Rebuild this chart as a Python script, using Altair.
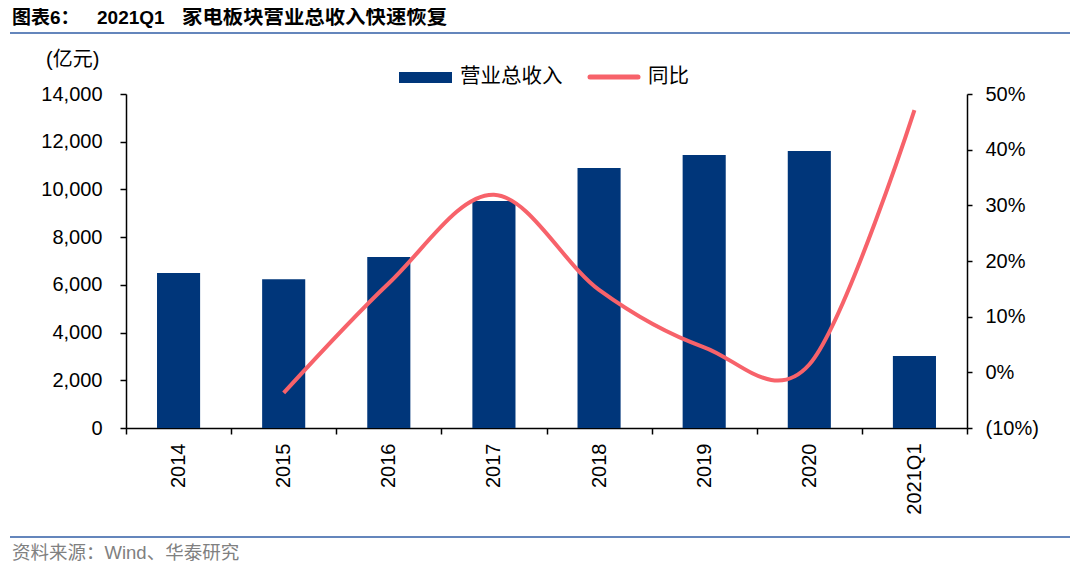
import altair as alt
import pandas as pd

# ---- data ----
categories = ["2014", "2015", "2016", "2017", "2018", "2019", "2020", "2021Q1"]
revenue = [6500, 6240, 7170, 9510, 10900, 11440, 11610, 3020]          # 营业总收入 (亿元)
yoy = [None, -3.7, 16.0, 31.9, 14.8, 4.5, 1.4, 47.1]                   # 同比 (%)
left_ticks = [0, 2000, 4000, 6000, 8000, 10000, 12000, 14000]
right_ticks = [-10, 0, 10, 20, 30, 40, 50]

title_prefix = "图表6："
title_year = "2021Q1"
title_main = "家电板块营业总收入快速恢复"
source_text = "资料来源：Wind、华泰研究"
unit_text = "(亿元)"
legend_bar = "营业总收入"
legend_line = "同比"

BAR_COLOR = "#00367A"
LINE_COLOR = "#F7626A"
RULE_COLOR = "#6486BC"
FONT = "Liberation Sans, Noto Sans CJK SC"

df = pd.DataFrame({"cat": categories, "rev": revenue, "yoy": yoy})

W, H = 841, 334

xscale = alt.Scale(paddingInner=0, paddingOuter=0)

bars = alt.Chart(df).mark_bar(color=BAR_COLOR, width={"band": 0.41}).encode(
    x=alt.X("cat:N", sort=categories, scale=xscale, title=None,
            axis=alt.Axis(tickBand="extent", labelAngle=-90, labelAlign="right",
                          labelBaseline="middle", labelFontSize=20, labelFont=FONT,
                          labelColor="#000", tickSize=6, labelPadding=9,
                          domainColor="#000", tickColor="#000", domainWidth=1.5,
                          tickWidth=1.5, grid=False)),
    y=alt.Y("rev:Q", scale=alt.Scale(domain=[0, 14000], nice=False), title=None,
            axis=alt.Axis(values=left_ticks, format=",d", labelFontSize=20,
                          labelFont=FONT, labelColor="#000", tickSize=6,
                          labelPadding=18, domainColor="#000", tickColor="#000",
                          domainWidth=1.5, tickWidth=1.5, grid=False)),
)

line = alt.Chart(df).transform_filter("isValid(datum.yoy)").mark_line(
    color=LINE_COLOR, strokeWidth=4, interpolate="cardinal", tension=0
).encode(
    x=alt.X("cat:N", sort=categories, bandPosition=0.5, scale=xscale, title=None),
    y=alt.Y("yoy:Q", scale=alt.Scale(domain=[-10, 50], nice=False), title=None,
            axis=alt.Axis(orient="right", values=right_ticks,
                          labelExpr="datum.value < 0 ? '(' + abs(datum.value) + '%)' : datum.value + '%'",
                          labelFontSize=20, labelFont=FONT, labelColor="#000",
                          tickSize=5, labelPadding=13, domainColor="#000",
                          tickColor="#000", domainWidth=1.5, tickWidth=1.5, grid=False)),
)

one = pd.DataFrame({"a": [0]})


def text_layer(txt, x, y, size, color="#000", weight="normal", align="left"):
    return alt.Chart(one).mark_text(
        text=txt, fontSize=size, font=FONT, color=color, fontWeight=weight,
        align=align, baseline="middle"
    ).encode(x=alt.value(x), y=alt.value(y))


title1 = text_layer(title_prefix, -114, -76, 19, weight="bold")
title2 = text_layer(title_year, -29, -76, 19, weight="bold")
title3 = text_layer(title_main, 56, -76, 20.4, weight="bold")
title_rule = alt.Chart(one).mark_rule(color=RULE_COLOR, strokeWidth=2).encode(
    x=alt.value(-116), x2=alt.value(944), y=alt.value(-61))
source = text_layer(source_text, -114, 459, 18.5, color="#808080")
source_rule = alt.Chart(one).mark_rule(color=RULE_COLOR, strokeWidth=2).encode(
    x=alt.value(-116), x2=alt.value(944), y=alt.value(443))
unit = text_layer(unit_text, -80, -34, 20)

leg_rect = alt.Chart(one).mark_rect(color=BAR_COLOR).encode(
    x=alt.value(273), x2=alt.value(326), y=alt.value(-22), y2=alt.value(-11))
leg_text1 = text_layer(legend_bar, 334, -17, 20.5)
leg_line = alt.Chart(one).mark_rule(color=LINE_COLOR, strokeWidth=5, strokeCap="round").encode(
    x=alt.value(464), x2=alt.value(512), y=alt.value(-17))
leg_text2 = text_layer(legend_line, 522, -17, 20.5)

chart = alt.layer(
    bars, line, title1, title2, title3, title_rule, source, source_rule, unit,
    leg_rect, leg_text1, leg_line, leg_text2
).resolve_scale(y="independent").properties(
    width=W, height=H,
    autosize=alt.AutoSizeParams(type="none"),
    padding={"left": 118, "top": 86, "right": 105, "bottom": 135},
    background="white",
).configure_view(stroke=None)

chart.save("out.html", embed_options={"renderer": "svg", "actions": False})
